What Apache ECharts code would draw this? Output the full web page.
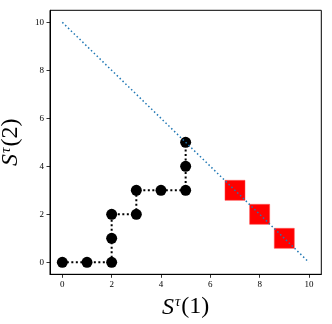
<!DOCTYPE html>
<html><head><meta charset="utf-8">
<script src="https://cdn.jsdelivr.net/npm/echarts@6/dist/echarts.min.js"></script>
<style>html,body{margin:0;padding:0;background:#fff}#c{width:332px;height:324px}</style>
</head><body><div id="c"></div>
<script>
const pathX = [0,1,2,2,2,3,3,4,5,5,5];
const pathY = [0,0,0,1,2,2,3,3,3,4,5];
const redX = [7,8,9];
const redY = [3,2,1];
const diagX = [0,10];
const diagY = [10,0];
const ticks = [0,2,4,6,8,10];

const chart = echarts.init(document.getElementById('c'), null, {renderer:'canvas'});
const serif = 'Liberation Serif';
const rich = {
  i:{fontFamily:serif,fontStyle:'italic',fontSize:24,color:'#000',height:26,lineHeight:26},
  s:{fontFamily:serif,fontStyle:'italic',fontSize:15,color:'#000',verticalAlign:'top',lineHeight:14,padding:[0,1,0,1]},
  n:{fontFamily:serif,fontSize:24,color:'#000',height:26,lineHeight:26}
};
const axisCommon = {
  min:-0.5, max:10.5, interval:2,
  splitLine:{show:false},
  axisLine:{show:true,onZero:false,lineStyle:{color:'#000',width:1}},
  axisTick:{show:true,inside:false,length:3.5,lineStyle:{color:'#000',width:0.8},customValues:ticks},
  axisLabel:{color:'#000',fontFamily:serif,fontSize:9,customValues:ticks,showMinLabel:true,showMaxLabel:true,margin:6},
  nameLocation:'middle',
  nameTextStyle:{fontFamily:serif,fontSize:24,color:'#000',rich:rich}
};
chart.setOption({
  animation:false,
  grid:{left:50,right:10.7,top:10.3,bottom:49.7,show:true,borderColor:'#000',borderWidth:1,containLabel:false,outerBoundsMode:'none'},
  xAxis:Object.assign({},axisCommon,{type:'value',name:'{i|S}{s|τ}{n|(1)}',nameGap:15}),
  yAxis:Object.assign({},axisCommon,{type:'value',name:'{i|S}{s|τ}{n|(2)}',nameGap:16}),
  series:[
    {type:'line',data:pathX.map((x,i)=>[x,pathY[i]]),symbol:'circle',symbolSize:11,
     itemStyle:{color:'#000',opacity:1},lineStyle:{color:'#000',width:2,type:[2,2.5]},z:2},
    {type:'scatter',data:redX.map((x,i)=>[x,redY[i]]),symbol:'rect',symbolSize:20,
     itemStyle:{color:'#ff0000',opacity:1,borderColor:'#ff4444',borderWidth:0.5},z:3},
    {type:'line',data:diagX.map((x,i)=>[x,diagY[i]]),symbol:'none',
     lineStyle:{color:'#1f77b4',width:1.5,type:[1.5,2.5]},z:4}
  ]
});
</script></body></html>
